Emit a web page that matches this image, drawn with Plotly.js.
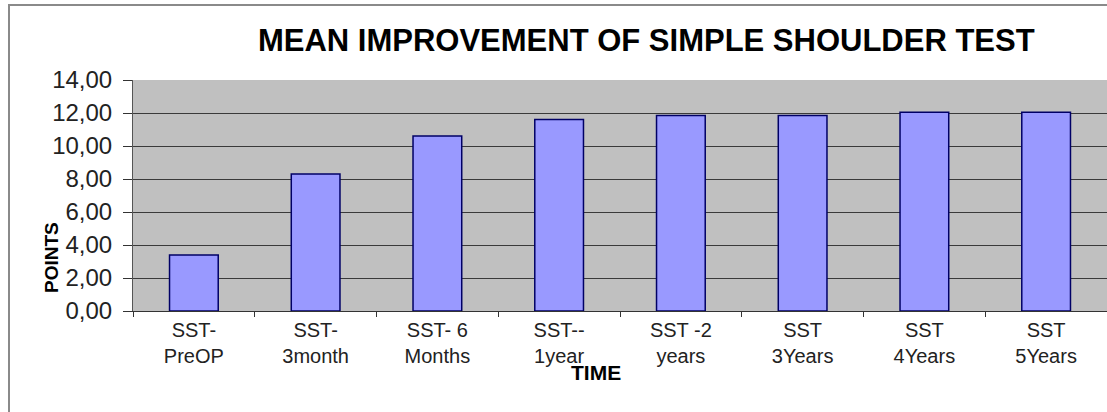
<!DOCTYPE html>
<html>
<head>
<meta charset="utf-8">
<script src="https://cdn.plot.ly/plotly-3.0.1.min.js"></script>
<style>
  html, body { margin: 0; padding: 0; background: #ffffff; }
  #wrap { position: relative; width: 1107px; height: 412px; overflow: hidden; }
  #chart { position: absolute; left: 0; top: 0; width: 1107px; height: 412px; }
  #frame { position: absolute; left: 8px; top: 4px; width: 1200px; height: 500px;
           border-left: 2px solid #8a8a8a; border-top: 2px solid #8a8a8a; pointer-events: none; }
</style>
</head>
<body>
<div id="wrap">
  <div id="chart"></div>
  <div id="frame"></div>
</div>
<script>
// Data
const categories = [
  "SST-<br>PreOP",
  "SST-<br>3month",
  "SST- 6<br>Months",
  "SST--<br>1year",
  "SST -2<br>years",
  "SST<br>3Years",
  "SST<br>4Years",
  "SST<br>5Years"
];
const meanPoints = [3.4, 8.3, 10.6, 11.6, 11.85, 11.85, 12.05, 12.05];

const chartTitle = "MEAN IMPROVEMENT OF SIMPLE SHOULDER TEST";
const xTitle = "TIME";
const yTitle = "POINTS";

const trace = {
  type: "bar",
  x: categories,
  y: meanPoints,
  marker: { color: "#9999ff", line: { color: "#000066", width: 1.5 } },
  hoverinfo: "x+y"
};

const layout = {
  width: 1107,
  height: 412,
  paper_bgcolor: "rgba(0,0,0,0)",
  plot_bgcolor: "#c0c0c0",
  margin: { l: 133, r: 0, t: 80, b: 101 },
  separators: ", ",
  bargap: 0.6,
  showlegend: false,
  font: { family: "Liberation Sans, Arial, sans-serif", color: "#222222" },
  title: {
    text: chartTitle,
    font: { size: 31, color: "#000000", family: "Liberation Sans, Arial, sans-serif", weight: "bold" },
    x: 0.527, xanchor: "center", xref: "paper",
    y: 0.903, yanchor: "middle", yref: "container"
  },
  xaxis: {
    type: "category",
    tickson: "boundaries",
    ticks: "outside",
    ticklen: 5,
    tickcolor: "#333333",
    showline: true,
    linecolor: "#333333",
    linewidth: 1,
    showgrid: false,
    ticklabelstandoff: 1,
    tickfont: { size: 20, color: "#222222" },
    automargin: false
  },
  yaxis: {
    range: [0, 14],
    dtick: 2,
    tickformat: ".2f",
    ticks: "outside",
    ticklen: 9,
    tickcolor: "#333333",
    showline: true,
    linecolor: "#555555",
    linewidth: 1,
    showgrid: true,
    gridcolor: "#3a3a3a",
    gridwidth: 1,
    zeroline: false,
    ticklabelstandoff: 6,
    tickfont: { size: 24, color: "#222222" },
    automargin: false
  },
  annotations: [
    {
      text: "<b>" + yTitle + "</b>",
      textangle: -90,
      xref: "paper", yref: "paper",
      x: -0.083, y: 0.23,
      xanchor: "center", yanchor: "middle",
      showarrow: false,
      font: { size: 19, color: "#000000" }
    },
    {
      text: "<b>" + xTitle + "</b>",
      xref: "paper", yref: "paper",
      x: 0.475, y: -0.265,
      xanchor: "center", yanchor: "middle",
      showarrow: false,
      font: { size: 21, color: "#000000" }
    }
  ]
};

Plotly.newPlot("chart", [trace], layout, { displayModeBar: false, staticPlot: true });
</script>
</body>
</html>
